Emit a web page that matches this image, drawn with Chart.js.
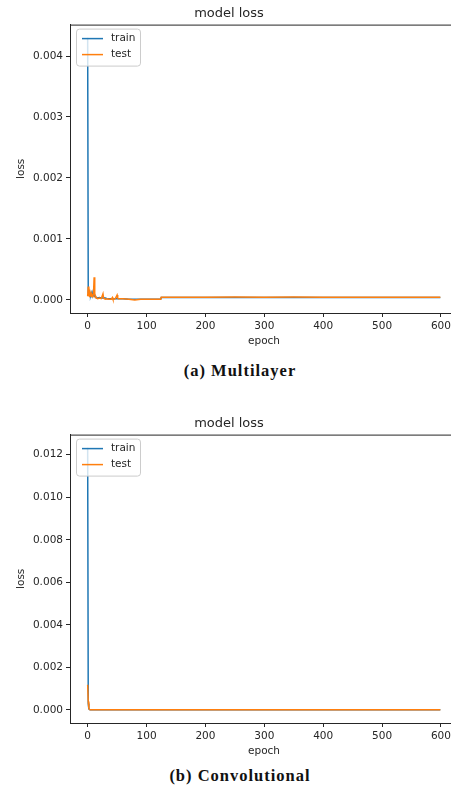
<!DOCTYPE html>
<html lang="en">
<head>
    <meta charset="UTF-8">
    <title>model loss</title>
    <script src="https://cdn.jsdelivr.net/npm/chart.js"></script>
    <style>
        html, body { margin: 0; padding: 0; background: #fff; overflow: hidden; }
        body { width: 451px; height: 786px; position: relative; }
        .plot { position: absolute; left: 0; width: 470px; height: 355px; }
        .caption {
            position: absolute; left: 0; width: 480px; text-align: center;
            font-family: "Liberation Serif", serif; font-weight: bold;
            font-size: 16.5px; letter-spacing: 1px; color: #111;
        }
    </style>
</head>
<body>
    <div class="plot" style="top:0"><canvas id="lossA"></canvas></div>
    <div class="caption" style="top:361px">(a) Multilayer</div>
    <div class="plot" style="top:410px"><canvas id="lossB"></canvas></div>
    <div class="caption" style="top:766px">(b) Convolutional</div>

    <script>
        // shared labels
        const seriesNames = ['train', 'test'];
        const epochTicks = [0, 100, 200, 300, 400, 500, 600];

        // (a) Multilayer
        const epochsA = [0, 1, 2, 3, 4, 5, 6, 7, 8, 9, 10, 11, 12, 13, 14, 15, 17, 20, 23, 26, 27, 28, 30, 33, 36, 40,
            42, 43, 44, 47, 50, 51, 52, 55, 60, 70, 80, 90, 100, 110, 120, 124, 125, 150, 200, 250, 300, 350, 400, 450, 500, 550, 599];
        const trainA = [0.0043, 0.00012, 0.00010, 0.00009, 0.00010, 0.00008, 0.00012, 0.00009, 0.00008, 0.00010, 0.00007,
            0.00006, 0.00008, 0.00005, 0.00004, 0.00004, 0.00003, 0.00004, 0.00003, 0.00003, 0.00004, 0.00003, 0.00003,
            0.00002, 0.00002, 0.00002, 0.00002, 0.00002, 0.00002, 0.00002, 0.00002, 0.00002, 0.00002, 0.00002, 0.00002,
            0.00001, 0.00001, 0.00001, 0.00001, 0.00001, 0.00001, 0.00001, 0.00004, 0.00004, 0.00004, 0.00004, 0.00004,
            0.00004, 0.00004, 0.00004, 0.00004, 0.00004, 0.00004];
        const testA = [0.00006, 0.00022, 0.00007, 0.00006, 0.00012, 0.00007, 0.00006, 0.00008, 0.00005, 0.00006, 0.00012,
            0.00037, 0.00010, 0.00004, 0.00005, 0.00003, 0.00002, 0.00003, 0.00002, 0.00010, 0.00003, 0.00002, 0.00001,
            0.00002, 0.00001, 0.00001, 0.00004, 0.00001, 0.00001, 0.00002, 0.00008, 0.00003, 0.00002, 0.00002, 0.00002,
            0.00001, 0.00000, 0.00001, 0.00001, 0.00001, 0.00001, 0.00001, 0.000045, 0.000045, 0.000045, 0.000046, 0.000045,
            0.000046, 0.000045, 0.000045, 0.000045, 0.000045, 0.000045];
        const lossTicksA = [0, 0.001, 0.002, 0.003, 0.004];

        // (b) Convolutional
        const epochsB = [0, 1, 2, 3, 4, 5, 10, 20, 50, 100, 200, 300, 400, 500, 599];
        const trainB = [0.01233, 0.00030, 0.00005, 0.00002, 0.00001, 0.00001, 0.00001, 0.00001, 0.00001, 0.00001,
            0.00001, 0.00001, 0.00001, 0.00001, 0.00001];
        const testB = [0.00118, 0.00040, 0.00008, 0.00002, 0.00001, 0.00001, 0.00001, 0.00001, 0.00001, 0.00001,
            0.00001, 0.00001, 0.00001, 0.00001, 0.00001];
        const lossTicksB = [0, 0.002, 0.004, 0.006, 0.008, 0.010, 0.012];

        const colors = ['#1f77b4', '#ff7f0e'];
        const tickFont = { family: 'DejaVu Sans', size: 10.5 };

        // frame around the axes + legend box in the upper left, like matplotlib
        const frameLegend = {
            id: 'frameLegend',
            afterDraw(chart) {
                const ctx = chart.ctx, a = chart.chartArea;
                ctx.save();
                ctx.strokeStyle = '#262626';
                ctx.lineWidth = 1;
                ctx.strokeRect(a.left + 0.5, a.top + 0.5, a.right - a.left, a.bottom - a.top);

                const bx = a.left + 6, by = a.top + 4, bw = 64, bh = 37;
                ctx.beginPath();
                ctx.roundRect(bx + 0.5, by + 0.5, bw, bh, 3);
                ctx.fillStyle = 'rgba(255,255,255,0.8)';
                ctx.fill();
                ctx.strokeStyle = '#cccccc';
                ctx.stroke();

                ctx.font = '10.5px "DejaVu Sans"';
                ctx.textBaseline = 'middle';
                chart.data.datasets.forEach((ds, i) => {
                    const y = by + 10 + i * 16;
                    ctx.beginPath();
                    ctx.moveTo(bx + 6, y);
                    ctx.lineTo(bx + 27, y);
                    ctx.strokeStyle = ds.borderColor;
                    ctx.lineWidth = 1.5;
                    ctx.stroke();
                    ctx.fillStyle = '#262626';
                    ctx.fillText(ds.label, bx + 35, y);
                });
                ctx.restore();
            }
        };

        function makeChart(id, epochs, train, test, lossTicks, ymin, ymax) {
            const series = [train, test];
            new Chart(document.getElementById(id), {
                type: 'line',
                data: {
                    datasets: series.map((vals, i) => ({
                        label: seriesNames[i],
                        data: epochs.map((e, j) => ({ x: e, y: vals[j] })),
                        borderColor: colors[i],
                        borderWidth: 1.5,
                        pointRadius: 0,
                        tension: 0,
                        order: 1 - i   // test drawn over train
                    }))
                },
                options: {
                    responsive: true,
                    maintainAspectRatio: false,
                    animation: false,
                    layout: { padding: { left: 0, right: 12, top: 0, bottom: 0 } },
                    plugins: {
                        legend: { display: false },
                        tooltip: { enabled: false },
                        title: {
                            display: true,
                            text: 'model loss',
                            color: '#262626',
                            font: { family: 'DejaVu Sans', size: 13, weight: 'normal' },
                            padding: { top: 6, bottom: 3 }
                        }
                    },
                    scales: {
                        x: {
                            type: 'linear',
                            min: -30,
                            max: 629,
                            afterBuildTicks: s => { s.ticks = epochTicks.map(v => ({ value: v })); },
                            afterFit: s => { s.height = 42; },
                            grid: { drawOnChartArea: false, tickLength: 4, color: '#262626' },
                            border: { display: true, color: '#262626' },
                            ticks: { font: tickFont, color: '#262626', padding: 3, maxRotation: 0 },
                            title: { display: true, text: 'epoch', font: tickFont, color: '#262626', padding: { top: 0, bottom: 7 } }
                        },
                        y: {
                            min: ymin,
                            max: ymax,
                            afterBuildTicks: s => { s.ticks = lossTicks.map(v => ({ value: v })); },
                            afterFit: s => { s.width = 70; },
                            grid: { drawOnChartArea: false, tickLength: 4, color: '#262626' },
                            border: { display: true, color: '#262626' },
                            ticks: { font: tickFont, color: '#262626', padding: 3, callback: v => v.toFixed(3) },
                            title: { display: true, text: 'loss', font: tickFont, color: '#262626', padding: { top: 15, bottom: 0 } }
                        }
                    }
                },
                plugins: [frameLegend]
            });
        }

        makeChart('lossA', epochsA, trainA, testA, lossTicksA, -0.000215, 0.004515);
        makeChart('lossB', epochsB, trainB, testB, lossTicksB, -0.000616, 0.012946);
    </script>
</body>
</html>
